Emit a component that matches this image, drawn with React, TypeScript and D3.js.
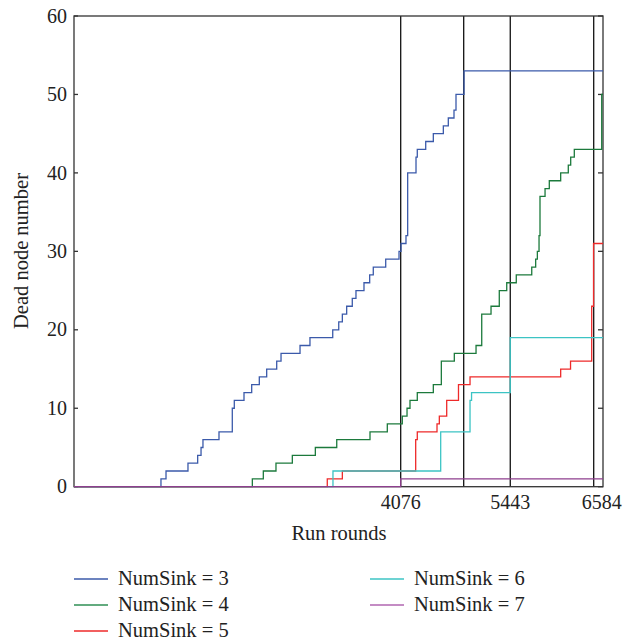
import React from "react";
import * as d3 from "d3";

type Pt = [number, number];

const sink3: Pt[] = [[0,0],[1085,1],[1148,2],[1422,3],[1543,4],[1585,5],[1609,6],[1809,7],[1975,10],[2000,11],[2121,12],[2217,13],[2312,14],[2404,15],[2529,16],[2583,17],[2820,18],[2944,19],[3228,20],[3303,21],[3348,22],[3402,23],[3472,24],[3518,25],[3618,26],[3689,27],[3734,28],[3889,29],[4055,30],[4080,31],[4142,32],[4163,40],[4267,42],[4283,43],[4388,44],[4483,45],[4608,46],[4670,47],[4741,48],[4766,50],[4866,53],[6600,53]];
const sink4: Pt[] = [[0,0],[2225,1],[2362,2],[2520,3],[2724,4],[3011,5],[3278,6],[3693,7],[3909,8],[4096,9],[4155,10],[4192,11],[4283,12],[4483,13],[4583,16],[4745,17],[5016,18],[5087,22],[5203,23],[5306,25],[5399,26],[5518,27],[5711,28],[5760,29],[5781,30],[5802,32],[5814,37],[5877,38],[5930,39],[6072,40],[6167,41],[6197,42],[6242,43],[6584,50],[6600,50]];
const sink5: Pt[] = [[0,0],[3160,1],[3348,2],[4263,6],[4283,7],[4529,8],[4558,9],[4650,11],[4797,13],[4941,14],[6072,15],[6195,16],[6459,23],[6482,31],[6600,31]];
const sink6: Pt[] = [[0,0],[3231,2],[4575,7],[4941,11],[4960,12],[5443,19],[6600,19]];
const sink7: Pt[] = [[0,0],[4076,1],[6600,1]];

const seriesNames = ["NumSink = 3", "NumSink = 4", "NumSink = 5", "NumSink = 6", "NumSink = 7"];
const seriesData = [sink3, sink4, sink5, sink6, sink7];
const seriesColors = ["#3b5aaa", "#1c7a3c", "#ee2a2a", "#3cc4c4", "#8e3f8e"];
const legendColors = ["#3b5aaa", "#2f8f55", "#ee2a2a", "#3cc4c4", "#b066b0"];

const eventLines = [4076, 4862, 5443, 6484];
const xTickValues = [4076, 5443, 6584];
const yTickValues = [0, 10, 20, 30, 40, 50, 60];

const W = 623, H = 643;
const L = 74, R = 603, T = 16, B = 486.7;
const FONT = "'Liberation Serif', 'Times New Roman', serif";

export default function App() {
  const x = d3.scaleLinear().domain([0, 6600]).range([L, R]);
  const y = d3.scaleLinear().domain([0, 60]).range([B, T]);
  const line = d3.line<Pt>().x(d => x(d[0])).y(d => y(d[1])).curve(d3.curveStepAfter);

  const legendPos = [
    [74, 579], [74, 605], [74, 631], [370, 579], [370, 605],
  ];

  return (
    <svg width={W} height={H} style={{ position: "absolute", left: 0, top: 0, background: "#fff" }}
      fontFamily={FONT}>
      <rect x={0} y={0} width={W} height={H} fill="#fff" />
      {eventLines.map((v, i) => (
        <line key={"e" + i} x1={x(v)} x2={x(v)} y1={T} y2={B} stroke="#111" strokeWidth={1.3} />
      ))}
      <rect x={L} y={T} width={R - L} height={B - T} fill="none" stroke="#333" strokeWidth={1.3} />
      {yTickValues.map((v, i) => (
        <g key={"y" + i}>
          <line x1={L} x2={L + 4} y1={y(v)} y2={y(v)} stroke="#333" strokeWidth={1.3} />
          <line x1={R} x2={R - 5} y1={y(v)} y2={y(v)} stroke="#333" strokeWidth={1.3} />
          <text x={L - 7} y={y(v)} dy="0.33em" textAnchor="end" fontSize={20} fill="#222">{v}</text>
        </g>
      ))}
      {seriesData.map((s, i) => (
        <path key={"s" + i} d={line(s) || ""} fill="none" stroke={seriesColors[i]} strokeWidth={1.3} />
      ))}
      {xTickValues.map((v, i) => (
        <text key={"x" + i} x={x(v)} y={509} textAnchor="middle" fontSize={20} fill="#222">{v}</text>
      ))}
      <text x={339} y={540} textAnchor="middle" fontSize={20.5} fill="#222">Run rounds</text>
      <text transform="translate(28,251) rotate(-90)" textAnchor="middle" fontSize={20.5} fill="#222">Dead node number</text>
      {seriesNames.map((n, i) => (
        <g key={"l" + i}>
          <line x1={legendPos[i][0]} x2={legendPos[i][0] + 34} y1={legendPos[i][1]} y2={legendPos[i][1]}
            stroke={legendColors[i]} strokeWidth={1.3} />
          <text x={legendPos[i][0] + 44} y={legendPos[i][1] + 6} fontSize={20.5} fill="#222">{n}</text>
        </g>
      ))}
    </svg>
  );
}
